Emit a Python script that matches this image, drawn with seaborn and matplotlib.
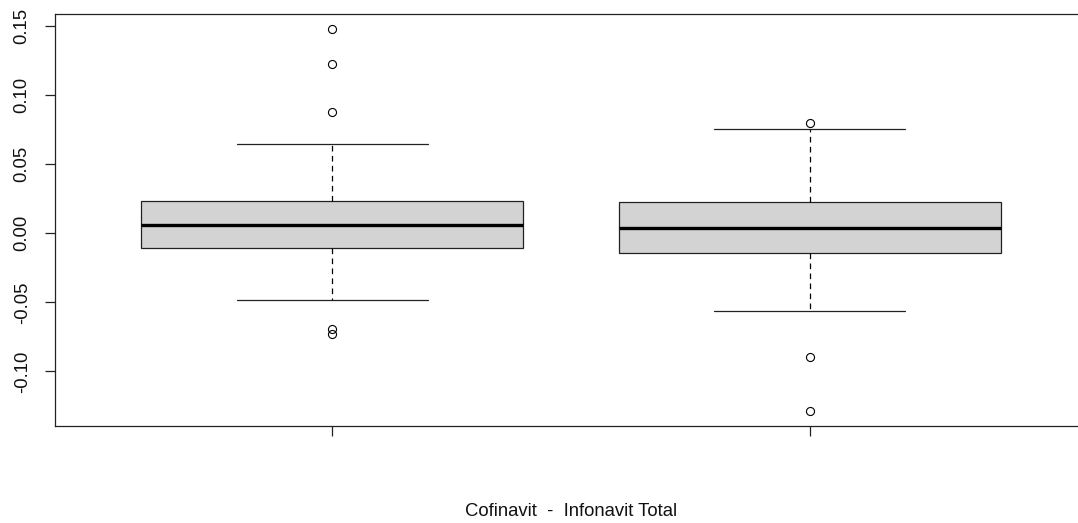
import numpy as np
import seaborn as sns
import matplotlib.pyplot as plt

# box statistics (R-style boxplot)
groups = ["Cofinavit", "Infonavit Total"]
q1 = [-0.0104, -0.0145]
medians = [0.0062, 0.0036]
q3 = [0.0236, 0.0227]
whisker_low = [-0.0483, -0.0563]
whisker_high = [0.0647, 0.0754]
outliers = [
    [0.1479, 0.1225, 0.0881, -0.0696, -0.0732],
    [0.0797, -0.0899, -0.1285],
]
y_ticks = [-0.10, -0.05, 0.00, 0.05, 0.10, 0.15]

sns.set_style("ticks")
plt.rcParams['font.family'] = ['Liberation Sans', 'DejaVu Sans']

fig = plt.figure(figsize=(10.78, 5.23), dpi=100)
ax = fig.add_axes([55 / 1078, 97 / 523, 1032 / 1078, 412 / 523])

stats = []
for i in range(len(groups)):
    stats.append({
        "label": groups[i],
        "q1": q1[i], "med": medians[i], "q3": q3[i],
        "whislo": whisker_low[i], "whishi": whisker_high[i],
        "fliers": np.array(outliers[i]),
    })

ax.bxp(
    stats,
    positions=[1, 2],
    widths=0.8,
    capwidths=0.4,
    patch_artist=True,
    boxprops=dict(facecolor="#D3D3D3", edgecolor="#222222", linewidth=0.9),
    medianprops=dict(color="black", linewidth=2.4, solid_capstyle="butt"),
    whiskerprops=dict(color="black", linewidth=0.9, linestyle=(0, (4.5, 3.5))),
    capprops=dict(color="#222222", linewidth=0.9),
    flierprops=dict(marker="o", markersize=5.8, markerfacecolor="none",
                    markeredgecolor="black", markeredgewidth=0.8),
)

ax.set_xlim(0.42, 2.58)
ax.set_ylim(-0.1396, 0.1589)
ax.set_xticks([1, 2])
ax.set_xticklabels(["", ""])
ax.set_yticks(y_ticks)
ax.set_yticklabels([f"{t:.2f}" for t in y_ticks], rotation=90, va="center")
ax.tick_params(axis="both", length=7.5, width=0.9, color="#222222",
               labelsize=13.3, labelcolor="#111111")
ax.tick_params(axis="y", pad=10)
for s in ax.spines.values():
    s.set_color("#222222")
    s.set_linewidth(0.9)

fig.text(571 / 1078, 1 - 511 / 523, "Cofinavit  -  Infonavit Total",
         ha="center", va="center", fontsize=13.3, color="#111111")

fig.savefig("out.png", dpi=100)
